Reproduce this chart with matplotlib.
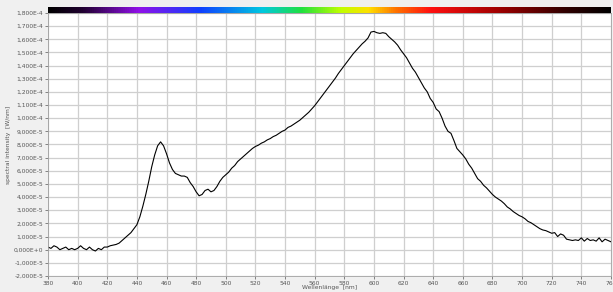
import numpy as np
import matplotlib
matplotlib.use("Agg")
import matplotlib.pyplot as plt
from matplotlib.colors import LinearSegmentedColormap
from matplotlib.ticker import FuncFormatter

# wavelength grid (nm) and spectral intensity (units of 1e-5)
wavelength = np.arange(380, 761, 2)
intensity_e5 = [
    0.2, 0.1, 0.3, 0.2, 0.0, 0.1, 0.2, 0.0, 0.1, 0.0,
    0.1, 0.3, 0.1, 0.0, 0.2, 0.0, -0.1, 0.1, 0.0, 0.2,
    0.2, 0.3, 0.35, 0.4, 0.5, 0.7, 0.9, 1.1, 1.3, 1.6,
    1.9, 2.5, 3.3, 4.2, 5.2, 6.3, 7.2, 7.9, 8.2, 7.9,
    7.3, 6.6, 6.1, 5.8, 5.7, 5.6, 5.6, 5.5, 5.1, 4.8,
    4.4, 4.1, 4.2, 4.5, 4.6, 4.4, 4.5, 4.8, 5.2, 5.5,
    5.7, 5.9, 6.2, 6.4, 6.7, 6.9, 7.1, 7.3, 7.5, 7.7,
    7.85, 7.95, 8.1, 8.2, 8.35, 8.45, 8.6, 8.7, 8.85, 9.0,
    9.1, 9.3, 9.4, 9.55, 9.7, 9.85, 10.05, 10.25, 10.45, 10.7,
    10.95, 11.25, 11.55, 11.85, 12.15, 12.45, 12.75, 13.05, 13.4, 13.7,
    14.0, 14.3, 14.6, 14.9, 15.15, 15.4, 15.65, 15.85, 16.1, 16.55,
    16.6, 16.5, 16.45, 16.5, 16.45, 16.2, 16.0, 15.8, 15.55, 15.2,
    14.9, 14.6, 14.2, 13.8, 13.5, 13.1, 12.7, 12.3, 12.0, 11.5,
    11.2, 10.7, 10.5, 10.0, 9.4, 9.0, 8.85, 8.3, 7.7, 7.45,
    7.2, 6.9, 6.5, 6.2, 5.8, 5.4, 5.2, 4.9, 4.7, 4.45,
    4.2, 4.0, 3.85, 3.7, 3.5, 3.25, 3.1, 2.9, 2.75, 2.6,
    2.5, 2.35, 2.15, 2.05, 1.9, 1.75, 1.6, 1.5, 1.45, 1.35,
    1.25, 1.3, 1.0, 1.2, 1.1, 0.8, 0.75, 0.7, 0.75, 0.7,
    0.9, 0.65, 0.85, 0.7, 0.75, 0.65, 0.9, 0.6, 0.8, 0.7,
    0.6,
]
intensity = np.array(intensity_e5) * 1e-5

x_ticks = list(range(380, 761, 20))
y_ticks = np.arange(-2e-5, 1.81e-4, 1e-5)

# colour stops of the spectrum strip above the plot
spec_pos = [0.0, 0.06, 0.16, 0.27, 0.38, 0.45, 0.52, 0.57, 0.62, 0.68, 0.80, 0.92, 1.0]
spec_col = ["#000000", "#200030", "#9010e8", "#1040ff", "#00c8e0", "#20e040",
            "#c0ff00", "#ffe000", "#ff7000", "#ff1010", "#a00000", "#300000", "#000000"]


def sci_fmt(v, pos):
    if abs(v) < 1e-12:
        return "0,000E+0"
    e = int(np.floor(np.log10(abs(v))))
    m = v / 10 ** e
    if round(abs(m), 3) >= 10:
        m /= 10
        e += 1
    s = "%.3f" % m
    return s.replace(".", ",") + "E" + ("%+d" % e if e >= 0 else "%d" % e)


fig = plt.figure(figsize=(6.13, 2.92), dpi=100, facecolor="#f0f0f0")
ax = fig.add_axes([0.0783, 0.0548, 0.9184, 0.9007])
ax.set_facecolor("white")
ax.plot(wavelength, intensity, color="black", lw=0.8)

ax.set_xlim(380, 760)
ax.set_ylim(-2e-5, 1.8e-4)
ax.set_xticks(x_ticks)
ax.set_yticks(y_ticks)
ax.yaxis.set_major_formatter(FuncFormatter(sci_fmt))
ax.tick_params(labelsize=4.3, colors="#555555", length=2, width=0.5, pad=1.5)
ax.grid(True, color="#cfcfcf", lw=0.9)
for s in ax.spines.values():
    s.set_color("#a0a0a0")
    s.set_linewidth(0.6)
ax.set_xlabel("Wellenlänge  [nm]", fontsize=4.3, color="#555555", va="center")
ax.xaxis.set_label_coords(0.5, -0.043)
ax.set_ylabel("spectral intensity  [W/nm]", fontsize=4.3, color="#555555", va="center")
ax.yaxis.set_label_coords(-0.07, 0.5)

# spectrum colour strip
cmap = LinearSegmentedColormap.from_list("spec", list(zip(spec_pos, spec_col)))
cax = fig.add_axes([0.0783, 0.9555, 0.9184, 0.022])
cax.imshow(np.linspace(0, 1, 512)[None, :], aspect="auto", cmap=cmap,
           extent=[380, 760, 0, 1])
cax.set_axis_off()

fig.savefig("out.png", dpi=100, facecolor=fig.get_facecolor())
